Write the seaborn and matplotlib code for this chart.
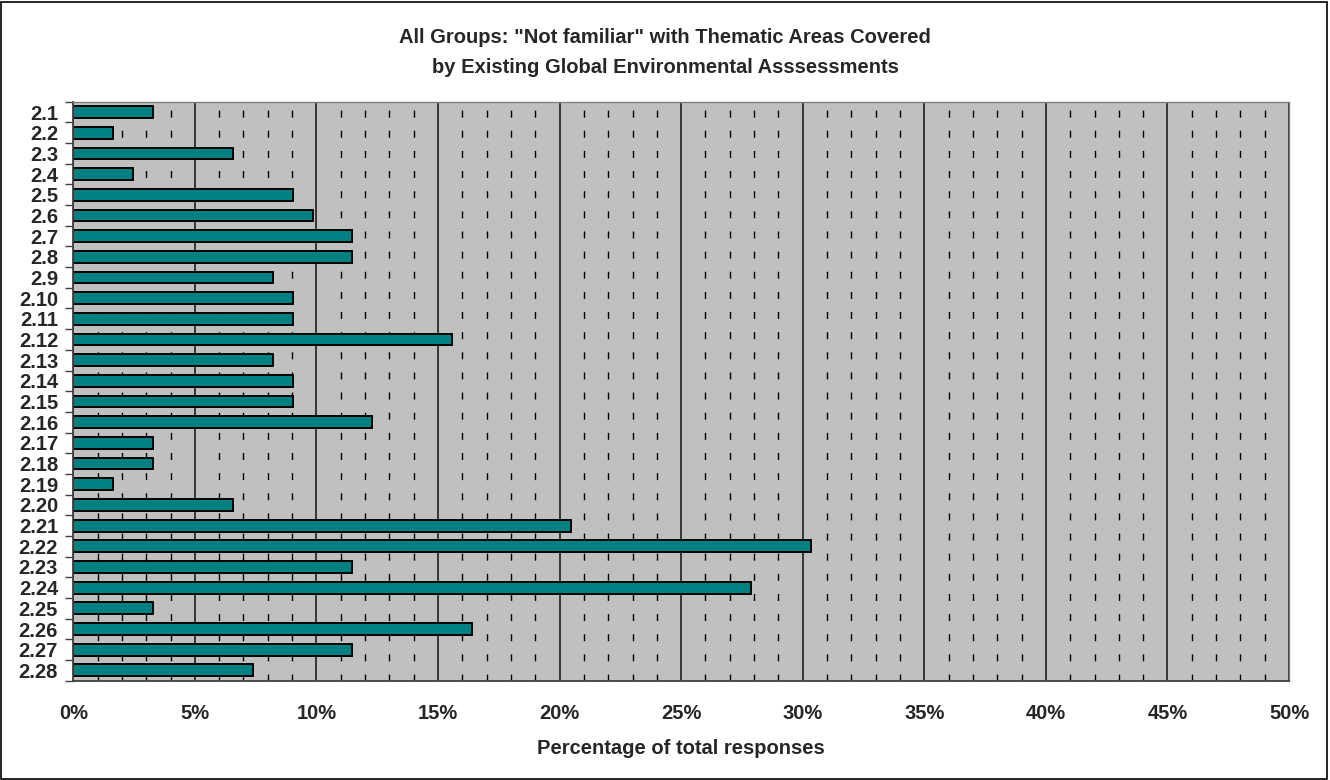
import numpy as np
import pandas as pd
import matplotlib
matplotlib.use("Agg")
import matplotlib.pyplot as plt
from matplotlib.ticker import MultipleLocator, FixedLocator, FuncFormatter
from matplotlib.patches import Rectangle
import seaborn as sns

# ------------------ DATA ------------------
categories = ["2.1", "2.2", "2.3", "2.4", "2.5", "2.6", "2.7", "2.8", "2.9", "2.10",
              "2.11", "2.12", "2.13", "2.14", "2.15", "2.16", "2.17", "2.18", "2.19", "2.20",
              "2.21", "2.22", "2.23", "2.24", "2.25", "2.26", "2.27", "2.28"]
pct_not_familiar = [3.28, 1.64, 6.56, 2.46, 9.02, 9.84, 11.48, 11.48, 8.20, 9.02,
                    9.02, 15.57, 8.20, 9.02, 9.02, 12.30, 3.28, 3.28, 1.64, 6.56,
                    20.49, 30.33, 11.48, 27.87, 3.28, 16.39, 11.48, 7.38]
x_ticks = [0, 5, 10, 15, 20, 25, 30, 35, 40, 45, 50]

TITLE = 'All Groups: "Not familiar" with Thematic Areas Covered\nby Existing Global Environmental Asssessments'
XLABEL = "Percentage of total responses"

df = pd.DataFrame({"area": categories, "pct": pct_not_familiar})

# ------------------ STYLE ------------------
sns.set_style("white")
plt.rcParams["font.family"] = ["Liberation Sans", "DejaVu Sans"]
plt.rcParams["font.weight"] = "bold"
plt.rcParams["lines.scale_dashes"] = False

fig = plt.figure(figsize=(13.3, 7.8), dpi=100)
ax = fig.add_axes([0.0551, 0.1273, 0.9141, 0.7423])
ax.set_facecolor("#C0C0C0")

sns.barplot(data=df, x="pct", y="area", orient="h", ax=ax, width=0.57,
            color="#008080", edgecolor="black", linewidth=1.4, saturation=1)

ax.set_xlim(0, 50)
ax.set_ylim(len(categories) - 0.5, -0.5)

# x axis: solid major grid every 5%, dashed minor grid every 1%
ax.xaxis.set_major_locator(FixedLocator(x_ticks))
ax.xaxis.set_minor_locator(MultipleLocator(1))
ax.xaxis.set_major_formatter(FuncFormatter(lambda v, p: f"{v:.0f}%"))
ax.grid(axis="x", which="major", color="#111111", linestyle="-", linewidth=1.1)
ax.grid(axis="x", which="minor", color="black", linestyle=(0, (5, 9.5)), linewidth=1.0)
ax.grid(axis="y", visible=False)
ax.set_axisbelow(True)
ax.tick_params(axis="x", which="major", length=6, width=1, color="#404040",
               direction="out", pad=11, labelsize=14.5)
ax.tick_params(axis="x", which="minor", length=0)

# y axis: tick marks between categories, labels centred on bars
n = len(categories)
ax.yaxis.set_major_locator(FixedLocator(np.arange(-0.5, n, 1.0)))
ax.yaxis.set_major_formatter(FuncFormatter(lambda v, p: ""))
ax.yaxis.set_minor_locator(FixedLocator(np.arange(n)))
ax.set_yticklabels(categories, minor=True)
ax.tick_params(axis="y", which="major", length=6, width=1, color="#404040", direction="out", left=True)
ax.tick_params(axis="y", which="minor", length=0, pad=11, labelsize=14.5)

for lab in ax.get_xticklabels() + ax.get_yticklabels(minor=True):
    lab.set_fontweight("bold")

for side in ["top", "right"]:
    ax.spines[side].set_color("#808080")
    ax.spines[side].set_linewidth(1.0)
for side in ["left", "bottom"]:
    ax.spines[side].set_color("#404040")
    ax.spines[side].set_linewidth(1.3)

ax.set_ylabel("")
ax.set_xlabel(XLABEL, fontsize=14.5, fontweight="bold", labelpad=11)

fig.text(0.5, 0.933, TITLE, ha="center", va="center", fontsize=14.5,
         fontweight="bold", linespacing=1.75)

# outer chart border
fig.patches.append(Rectangle((0.001, 0.001), 0.997, 0.997, transform=fig.transFigure,
                             fill=False, edgecolor="black", linewidth=1.2))

fig.savefig("out.png", dpi=100, facecolor="white")
